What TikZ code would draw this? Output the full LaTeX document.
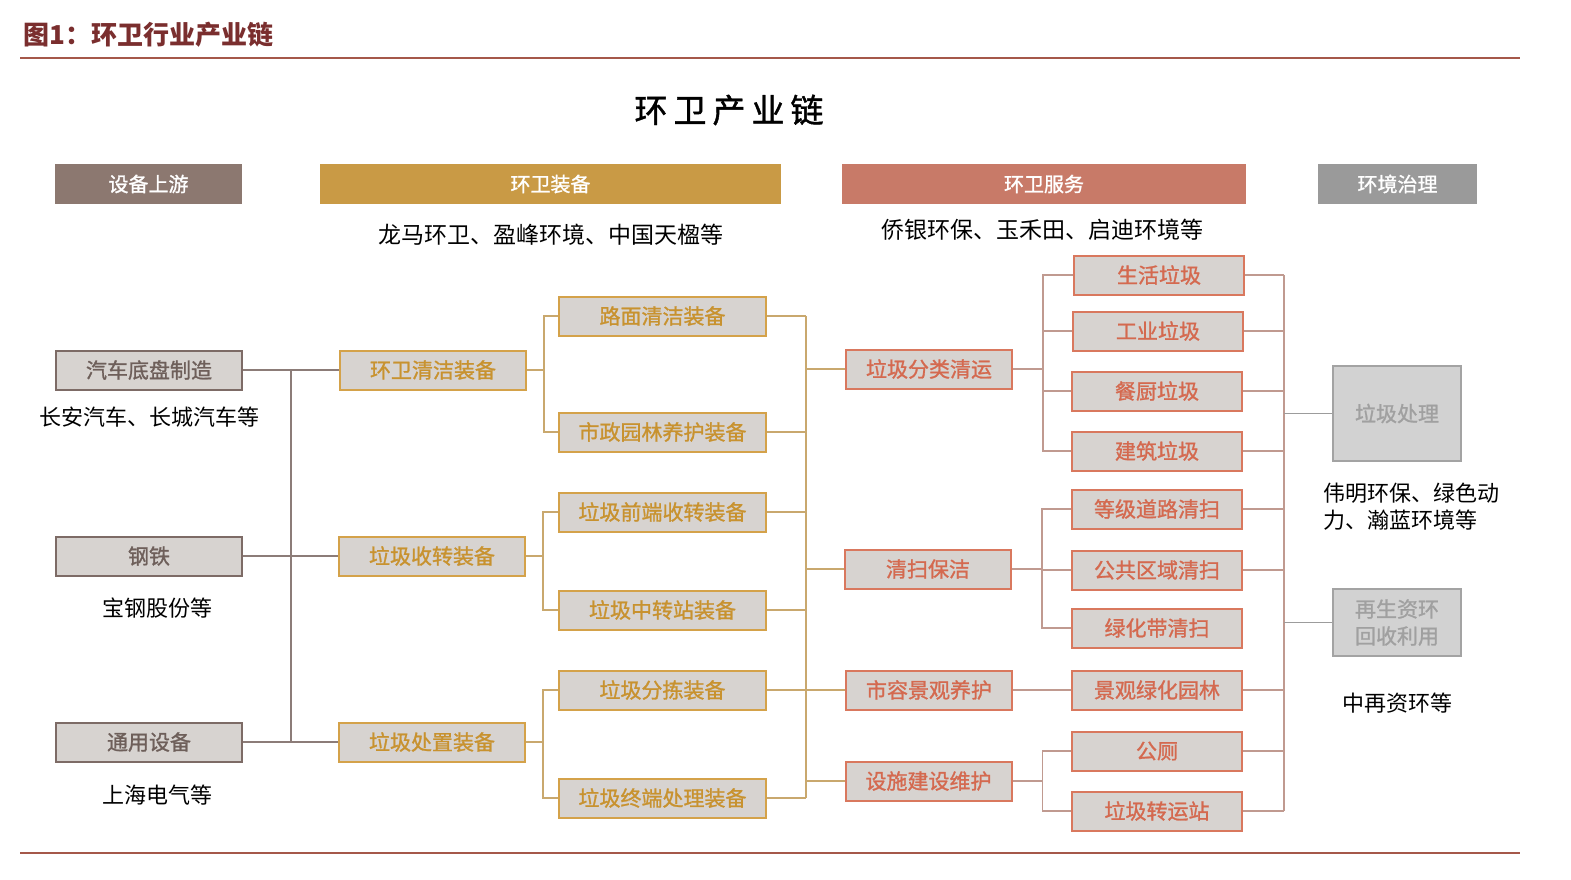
\documentclass[tikz,border=0pt]{standalone}
\usepackage{fontspec}
\setmainfont{Noto Sans CJK SC}
\newfontfamily\boxfont{Noto Sans CJK SC}[FakeBold=1.2]
\definecolor{titlered}{HTML}{7A2E2E}
\definecolor{rulered}{HTML}{A5584A}
\definecolor{h1fill}{HTML}{8C7870}
\definecolor{h2fill}{HTML}{C99A45}
\definecolor{h3fill}{HTML}{C87A68}
\definecolor{h4fill}{HTML}{9A9A9A}
\definecolor{boxfill}{HTML}{D7D3D0}
\definecolor{c1line}{HTML}{7D6B66}
\definecolor{c1text}{HTML}{6E5F5A}
\definecolor{c1conn}{HTML}{8C7C78}
\definecolor{goldline}{HTML}{D4A24A}
\definecolor{goldtext}{HTML}{C8922F}
\definecolor{goldconn}{HTML}{C9A86E}
\definecolor{salline}{HTML}{D9785E}
\definecolor{saltext}{HTML}{D4694F}
\definecolor{salconn}{HTML}{C09A90}
\definecolor{g6line}{HTML}{A3A3A3}
\definecolor{g6fill}{HTML}{D2D2D2}
\definecolor{g6text}{HTML}{A0A0A0}
\definecolor{g6conn}{HTML}{9C9C9C}
\begin{document}
\begin{tikzpicture}[x=1pt,y=-1pt,
  hdr/.style={draw=none, inner sep=0pt, minimum height=40pt, text=white, font=\boxfont\fontsize{20}{24}\selectfont},
  box/.style={draw, line width=2pt, fill=boxfill, inner sep=0pt, minimum height=39pt, font=\boxfont\fontsize{21}{25}\selectfont},
  cA/.style={box, draw=c1line, text=c1text, minimum width=186pt},
  cB/.style={box, draw=goldline, text=goldtext, minimum width=186pt},
  cC/.style={box, draw=goldline, text=goldtext, minimum width=207pt},
  cD/.style={box, draw=salline, text=saltext, minimum width=166pt},
  cE/.style={box, draw=salline, text=saltext, minimum width=170pt},
  cF/.style={box, draw=g6line, fill=g6fill, text=g6text, minimum width=128pt, align=center, font=\boxfont\fontsize{21}{27}\selectfont},
  lab/.style={text=black, font=\fontsize{22}{27}\selectfont},
  toplab/.style={text=black, font=\fontsize{23}{28}\selectfont},
  lA/.style={draw=c1conn, line width=1.3pt},
  lB/.style={draw=goldconn, line width=1.3pt},
  lD/.style={draw=salconn, line width=1.3pt},
  lF/.style={draw=g6conn, line width=1.3pt},
  rulel/.style={draw=rulered, line width=1.5pt}
]
\useasboundingbox[fill=white] (0,0) rectangle (1571,879);

% title and rules
\node[anchor=west, text=titlered, font=\bfseries\fontsize{26}{28}\selectfont] (title) at (20,35) {图1：环卫行业产业链};
\coordinate (r1a) at (20,58); \coordinate (r1b) at (1520,58);
\coordinate (r2a) at (20,853); \coordinate (r2b) at (1520,853);
\draw[rulel] (r1a) -- (r1b);
\draw[rulel] (r2a) -- (r2b);
\node[font=\boxfont\fontsize{33}{36}\selectfont] (main) at (729,110) {环\hspace{6pt}卫\hspace{6pt}产\hspace{6pt}业\hspace{6pt}链};

% headers
\node[hdr, fill=h1fill, minimum width=187pt] (h1) at (148.5,184) {设备上游};
\node[hdr, fill=h2fill, minimum width=461pt] (h2) at (550.5,184) {环卫装备};
\node[hdr, fill=h3fill, minimum width=404pt] (h3) at (1044,184) {环卫服务};
\node[hdr, fill=h4fill, minimum width=159pt] (h4) at (1397.5,184) {环境治理};

\node[toplab] (s2) at (551,235) {龙马环卫、盈峰环境、中国天楹等};
\node[toplab] (s3) at (1042,230) {侨银环保、玉禾田、启迪环境等};

% column 1
\node[cA] (a1) at (149,370) {汽车底盘制造};
\node[cA] (a2) at (149,556) {钢铁};
\node[cA] (a3) at (149,742) {通用设备};
\node[lab] (la1) at (149,417) {长安汽车、长城汽车等};
\node[lab] (la2) at (157,608) {宝钢股份等};
\node[lab] (la3) at (157,795) {上海电气等};

% column 2
\node[cB] (b1) at (433,370) {环卫清洁装备};
\node[cB] (b2) at (432,556) {垃圾收转装备};
\node[cB] (b3) at (432,742) {垃圾处置装备};

% column 3
\node[cC] (c1) at (662.5,316) {路面清洁装备};
\node[cC] (c2) at (662.5,432) {市政园林养护装备};
\node[cC] (c3) at (662.5,512) {垃圾前端收转装备};
\node[cC] (c4) at (662.5,610) {垃圾中转站装备};
\node[cC] (c5) at (662.5,690) {垃圾分拣装备};
\node[cC] (c6) at (662.5,798) {垃圾终端处理装备};

% column 4
\node[cD] (d1) at (929,369) {垃圾分类清运};
\node[cD] (d2) at (928,569) {清扫保洁};
\node[cD] (d3) at (929,690) {市容景观养护};
\node[cD] (d4) at (928.5,781) {设施建设维护};

% column 5
\node[cE] (e1) at (1159,275) {生活垃圾};
\node[cE] (e2) at (1158,331) {工业垃圾};
\node[cE] (e3) at (1157,391) {餐厨垃圾};
\node[cE] (e4) at (1157,451) {建筑垃圾};
\node[cE] (e5) at (1157,509) {等级道路清扫};
\node[cE] (e6) at (1157,570) {公共区域清扫};
\node[cE] (e7) at (1157,628) {绿化带清扫};
\node[cE] (e8) at (1157,690) {景观绿化园林};
\node[cE] (e9) at (1157,751) {公厕};
\node[cE] (e10) at (1157,811) {垃圾转运站};

% column 6
\node[cF, minimum height=95pt] (f1) at (1397,413.5) {垃圾处理};
\node[cF, minimum height=67pt] (f2) at (1397,622.5) {再生资环\\回收利用};
\node[lab, anchor=west, align=left] (lf1) at (1320,506.5) {伟明环保、绿色动\\力、瀚蓝环境等};
\node[lab] (lf2) at (1397,703) {中再资环等};

% bus coordinates
\coordinate (busA) at (291,0);
\coordinate (busC) at (806,0);
\coordinate (busE) at (1284,0);

% column 1 -> column 2
\draw[lA] (a1.east) -- (b1.west);
\draw[lA] (a2.east) -- (b2.west);
\draw[lA] (a3.east) -- (b3.west);
\draw[lA] (a1.east -| busA) -- (a3.east -| busA);

% column 2 -> column 3
\draw[lB] (b1.east) -- ++(17,0) |- (c1.west);
\draw[lB] (b1.east) -- ++(17,0) |- (c2.west);
\draw[lB] (b2.east) -- ++(17,0) |- (c3.west);
\draw[lB] (b2.east) -- ++(17,0) |- (c4.west);
\draw[lB] (b3.east) -- ++(17,0) |- (c5.west);
\draw[lB] (b3.east) -- ++(17,0) |- (c6.west);

% column 3 -> column 4
\foreach \n in {c1,c2,c3,c4,c5,c6} {\draw[lB] (\n.east) -- (\n.east -| busC);}
\draw[lB] (c1.east -| busC) -- (c6.east -| busC);
\foreach \n in {d1,d2,d3,d4} {\draw[lB] (busC |- \n.west) -- (\n.west);}

% column 4 -> column 5
\foreach \n in {e1,e2,e3,e4} {\draw[lD] (d1.east) -- ++(30,0) |- (\n.west);}
\foreach \n in {e5,e6,e7} {\draw[lD] (d2.east) -- ++(30,0) |- (\n.west);}
\draw[lD] (d3.east) -- (e8.west);
\foreach \n in {e9,e10} {\draw[lD] (d4.east) -- ++(30,0) |- (\n.west);}

% column 5 -> column 6
\foreach \n in {e1,e2,e3,e4,e5,e6,e8,e9,e10} {\draw[lD] (\n.east) -- (\n.east -| busE);}
\draw[lD] (e1.east -| busE) -- (e10.east -| busE);
\draw[lF] (busE |- f1.west) -- (f1.west);
\draw[lF] (busE |- f2.west) -- (f2.west);
\end{tikzpicture}
\end{document}
